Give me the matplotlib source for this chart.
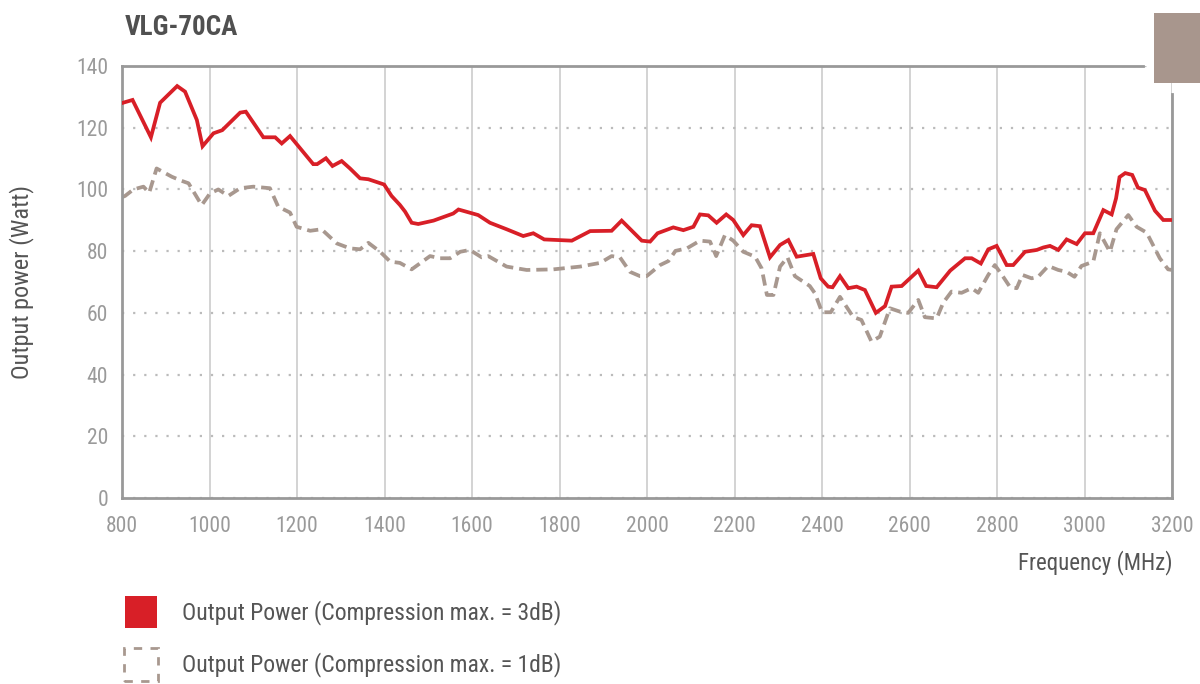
import matplotlib.pyplot as plt
from matplotlib.patches import Rectangle

plt.rcParams['font.family'] = ['Roboto Condensed', 'Roboto', 'DejaVu Sans']

# Output Power (Compression max. = 3dB)
f_3db = [800, 824, 866, 887, 926, 944, 971, 984, 1009, 1029, 1070, 1083, 1123, 1150, 1165,
         1184, 1237, 1246, 1266, 1281, 1302, 1321, 1344, 1363, 1399, 1416, 1435, 1447, 1462,
         1477, 1512, 1557, 1569, 1614, 1641, 1679, 1717, 1740, 1765, 1828, 1870, 1919, 1942,
         1988, 2007, 2024, 2060, 2083, 2106, 2121, 2140, 2159, 2181, 2197, 2220, 2239, 2258,
         2281, 2304, 2323, 2342, 2380, 2397, 2414, 2424, 2441, 2460, 2479, 2498, 2523, 2544,
         2559, 2582, 2620, 2638, 2662, 2693, 2727, 2742, 2763, 2780, 2799, 2822, 2837, 2864,
         2891, 2906, 2921, 2940, 2959, 2982, 3001, 3020, 3043, 3062, 3072, 3080, 3093, 3109,
         3122, 3138, 3161, 3180, 3200]
p_3db = [128, 129, 116.9, 128.1, 133.5, 131.7, 122.5, 114, 118.2, 119.2, 124.9, 125.2, 116.9, 116.9, 114.9,
         117.3, 108.2, 108.2, 110.1, 107.6, 109.2, 106.8, 103.6, 103.3, 101.6, 97.9, 95, 92.8, 89.2,
         88.8, 89.9, 92.2, 93.5, 91.7, 89.2, 87.1, 84.9, 85.8, 83.8, 83.4, 86.5, 86.6, 89.9,
         83.4, 83.1, 85.8, 87.7, 86.8, 87.9, 91.9, 91.6, 89.2, 91.9, 90.1, 85.2, 88.4, 88.1,
         78, 82, 83.6, 78.2, 79.1, 71.2, 68.5, 68.3, 71.9, 68, 68.5, 67.4, 60, 62.2,
         68.5, 68.7, 73.7, 68.7, 68.3, 73.7, 77.7, 77.7, 76, 80.6, 81.7, 75.5, 75.5, 79.8,
         80.4, 81.2, 81.7, 80.4, 83.8, 82.3, 85.8, 85.8, 93.3, 91.9, 97.1, 104, 105.3, 104.7,
         100.6, 99.8, 93.1, 90.1, 90.1]

# Output Power (Compression max. = 1dB)
f_1db = [800, 807, 826, 849, 862, 879, 914, 936, 952, 982, 1001, 1020, 1043, 1070, 1100,
         1138, 1157, 1184, 1199, 1230, 1256, 1291, 1321, 1344, 1363, 1390, 1413, 1435, 1462,
         1504, 1527, 1550, 1573, 1595, 1622, 1637, 1679, 1725, 1786, 1847, 1893, 1919, 1938,
         1961, 1984, 1999, 2030, 2049, 2065, 2091, 2121, 2144, 2158, 2178, 2197, 2220, 2247,
         2262, 2274, 2289, 2304, 2321, 2338, 2372, 2384, 2400, 2420, 2441, 2471, 2490, 2513,
         2532, 2555, 2578, 2597, 2620, 2635, 2662, 2677, 2696, 2719, 2742, 2757, 2780, 2795,
         2814, 2830, 2845, 2858, 2879, 2894, 2917, 2940, 2959, 2977, 2993, 3020, 3035, 3058,
         3073, 3100, 3119, 3142, 3172, 3191, 3200]
p_1db = [97.5, 97.9, 100, 100.9, 98.9, 106.8, 104.1, 102.8, 102, 94.9, 98.7, 100, 97.9, 100.4, 100.9,
         100.4, 94.4, 92.5, 87.9, 86.6, 87.1, 82.5, 80.9, 80.6, 82.7, 79.8, 76.6, 76.2, 74.1,
         78.4, 77.7, 77.7, 79.8, 80.4, 78, 78.4, 75, 73.9, 74.1, 75, 76.2, 78.4, 78,
         73.3, 71.9, 71.9, 75.5, 76.8, 80.1, 80.9, 83.4, 83.1, 78.4, 85.2, 83.4, 79.8, 78.2,
         74.4, 65.8, 65.8, 75, 78, 71.9, 68.7, 66.3, 60.2, 60.2, 65.2, 58.7, 57.7, 50.7,
         52.3, 61.5, 60.4, 60, 64.2, 58.6, 58.2, 63.3, 66.9, 66.5, 68, 66.5, 72.3, 75.5,
         71.7, 68.3, 68, 72.3, 71.2, 71.7, 75.2, 73.9, 73.3, 71.7, 75.2, 76.6, 85.8, 79.8,
         87.1, 91.7, 87.9, 86, 77.7, 74.1, 73.9]

x_ticks = list(range(800, 3201, 200))
y_ticks = list(range(0, 141, 20))

red = '#d81f27'
taupe = '#a8988f'
grey_text = '#9a9a9a'
dark_text = '#555555'

fig = plt.figure(figsize=(12, 6.84), dpi=100)
ax = fig.add_axes([0.1017, 0.2719, 0.875, 0.6316])

ax.plot(f_3db, p_3db, color=red, lw=2.7, solid_joinstyle='miter', zorder=3)
ax.plot(f_1db, p_1db, color=taupe, lw=2.7, dashes=(3.0, 1.6), zorder=2)

ax.set_xlim(800, 3200)
ax.set_ylim(0, 140)
ax.set_xticks(x_ticks)
ax.set_yticks(y_ticks)

# gridlines
ax.grid(axis='x', color='#cccccc', lw=1.2)
ax.grid(axis='y', color='#bbbbbb', lw=1.6, linestyle=(0, (1, 4)))
ax.set_axisbelow(True)

for s in ax.spines.values():
    s.set_color('#999999')
    s.set_linewidth(2)
ax.spines['top'].set_bounds(800, 3134)
ax.spines['right'].set_bounds(0, 131)

ax.tick_params(length=0, pad=10, labelsize=15.5, labelcolor=grey_text)
ax.tick_params(axis='x', pad=13)

ax.set_ylabel('Output power (Watt)', fontsize=17.5, color=dark_text, labelpad=30)
ax.set_xlabel('Frequency (MHz)', fontsize=16.5, color=dark_text)
ax.xaxis.set_label_coords(1.0, -0.12)
ax.xaxis.label.set_horizontalalignment('right')

fig.text(0.104, 0.96, 'VLG-70CA', fontsize=19.5, fontweight='bold', color='#505050',
         va='center', ha='left')

# top-right decoration box
fig.add_artist(Rectangle((0.9617, 0.8787), 0.0383, 0.1023, transform=fig.transFigure,
                         facecolor='#a8968d', edgecolor='none'))

# legend
fig.add_artist(Rectangle((0.1042, 0.0819), 0.0267, 0.0468, transform=fig.transFigure,
                         facecolor=red, edgecolor='none'))
fig.add_artist(Rectangle((0.1033, 0.0044), 0.0283, 0.0482, transform=fig.transFigure,
                         facecolor='none', edgecolor=taupe, lw=2, linestyle=(0, (3, 3))))
fig.text(0.152, 0.105, 'Output Power (Compression max. = 3dB)', fontsize=17,
         color=dark_text, va='center', ha='left')
fig.text(0.152, 0.028, 'Output Power (Compression max. = 1dB)', fontsize=17,
         color=dark_text, va='center', ha='left')

fig.savefig('out.png', dpi=100)
